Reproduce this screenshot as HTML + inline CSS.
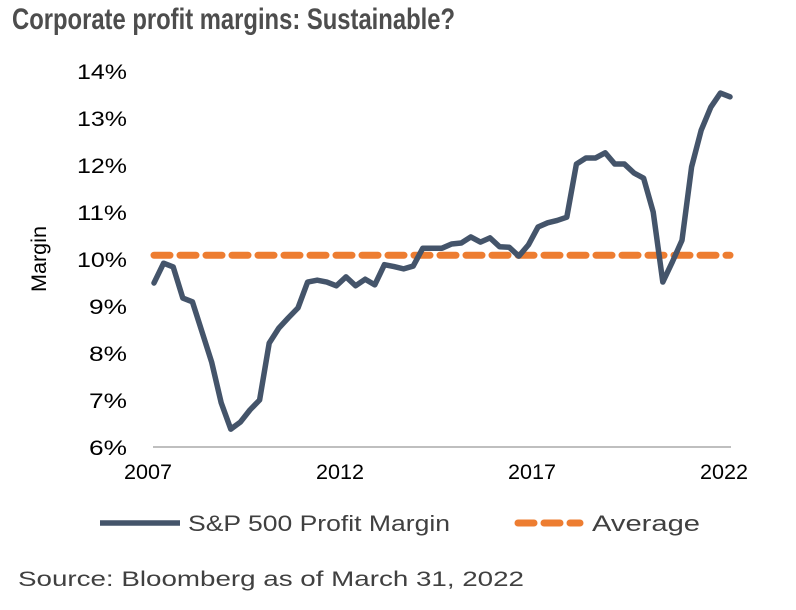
<!DOCTYPE html>
<html><head><meta charset="utf-8"><style>
body{margin:0;background:#fff;}
svg{display:block;font-family:"Liberation Sans",sans-serif;}
</style></head><body>
<svg id="chart" width="796" height="610">
<text x="12" y="29" font-size="30" font-weight="bold" fill="#4d4d4d" textLength="443" lengthAdjust="spacingAndGlyphs">Corporate profit margins: Sustainable?</text>
<text transform="translate(46,259) rotate(-90)" text-anchor="middle" font-size="21" fill="#000" textLength="66" lengthAdjust="spacingAndGlyphs">Margin</text>
<g id="yticks"></g><g id="xticks"></g>
<line x1="153" y1="447" x2="731" y2="447" stroke="#999" stroke-width="1.2"/>
<g id="series"></g>
<g>
<line x1="100" y1="523" x2="180" y2="523" stroke="#44546A" stroke-width="5.5"/>
<text x="188" y="531" font-size="22" fill="#404040" textLength="262" lengthAdjust="spacingAndGlyphs">S&amp;P 500 Profit Margin</text>
<line x1="518" y1="523" x2="580" y2="523" stroke="#ED7D31" stroke-width="7" stroke-dasharray="16,10" stroke-linecap="round"/>
<text x="592" y="531" font-size="22" fill="#404040" textLength="108" lengthAdjust="spacingAndGlyphs">Average</text>
</g>
<text x="18" y="586" font-size="21" fill="#404040" textLength="506" lengthAdjust="spacingAndGlyphs">Source: Bloomberg as of March 31, 2022</text>
</svg>
<script>
const margins=[9.49,9.91,9.83,9.17,9.09,8.45,7.81,6.94,6.38,6.53,6.79,7.0,8.21,8.53,8.75,8.96,9.51,9.55,9.51,9.43,9.62,9.43,9.57,9.45,9.88,9.84,9.79,9.85,10.23,10.23,10.23,10.32,10.34,10.47,10.36,10.45,10.26,10.25,10.06,10.30,10.68,10.77,10.82,10.89,12.02,12.15,12.15,12.26,12.02,12.02,11.83,11.72,11.0,9.51,9.94,10.40,11.96,12.74,13.23,13.53,13.45];
const averageValue=[10.08];
const yTicks=[6,7,8,9,10,11,12,13,14];
const xLabels=["2007","2012","2017","2022"];
const xLabelIdx=[0,20,40,60];
const NS="http://www.w3.org/2000/svg";
const x0=154,x1=730,yBase=447,pxPer=47;
function xs(i){return x0+i*(x1-x0)/(margins.length-1);}
function ys(v){return yBase-(v-6)*pxPer;}
function mk(t,a,p){const e=document.createElementNS(NS,t);for(const k in a)e.setAttribute(k,a[k]);p.appendChild(e);return e;}
const yt=document.getElementById('yticks');
yTicks.forEach(v=>{const t=mk('text',{x:127,y:ys(v)+8,'text-anchor':'end','font-size':21,fill:'#000',textLength:(v>=10?50:38),lengthAdjust:'spacingAndGlyphs'},yt);t.textContent=v+'%';

});
const xt=document.getElementById('xticks');
xLabels.forEach((l,k)=>{const t=mk('text',{x:xs(xLabelIdx[k])-6,y:479,'text-anchor':'middle','font-size':21,fill:'#000',textLength:48,lengthAdjust:'spacingAndGlyphs'},xt);t.textContent=l;

});
const s=document.getElementById('series');
const avg=mk('line',{x1:x0,x2:x1,y1:ys(averageValue[0]),y2:ys(averageValue[0]),stroke:'#ED7D31','stroke-width':7,'stroke-dasharray':'16,10','stroke-linecap':'round'},s);


const pl=mk('polyline',{points:margins.map((v,i)=>xs(i)+','+ys(v)).join(' '),fill:'none',stroke:'#44546A','stroke-width':5.5,'stroke-linejoin':'round','stroke-linecap':'round'},s);


</script>
</body></html>
